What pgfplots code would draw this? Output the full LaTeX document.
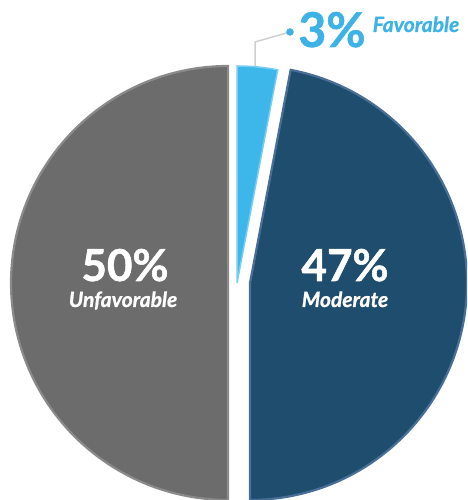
\documentclass[border=0pt]{standalone}
\usepackage{pgfplots}
\pgfplotsset{compat=1.18}
\usepackage{fontspec}
\setmainfont{Lato}
\newfontfamily\heavy[BoldFeatures={FakeBold=1.2}, BoldItalicFeatures={FakeBold=1.0}]{Lato}
\definecolor{grayfill}{HTML}{6C6C6C}
\definecolor{grayedge}{HTML}{8A8A8A}
\definecolor{bluefill}{HTML}{1F4D6E}
\definecolor{blueedge}{HTML}{4A6F97}
\definecolor{lbfill}{HTML}{3DB6EA}
\definecolor{lbedge}{HTML}{78CDF2}
\definecolor{lbtext}{HTML}{3DB2E6}
\definecolor{leader}{HTML}{CFCFCF}
% data: percentages
\def\vUnfav{50}
\def\vMod{47}
\def\vFav{3}
\def\R{217}
\begin{document}
\begin{tikzpicture}
\begin{axis}[
  width=467pt, height=500pt, scale only axis,
  xmin=0, xmax=467, ymin=0, ymax=500,
  hide axis, clip=true,
]
% Unfavorable (gray): from 90 to 90+3.6*50
\addplot[fill=grayfill, draw=grayedge, line width=2.2pt, samples=120,
  domain=90:{90+3.6*\vUnfav}, variable=\t]
  ({228+\R*cos(\t)},{217+\R*sin(\t)}) -- (axis cs:228,217) -- cycle;
% Moderate (dark blue): from 90-3.6*3 down by 3.6*47
\addplot[fill=bluefill, draw=blueedge, line width=2.2pt, samples=120,
  domain={90-3.6*\vFav-3.6*\vMod}:{90-3.6*\vFav}, variable=\t]
  ({250+\R*cos(\t)},{217+\R*sin(\t)}) -- (axis cs:250,217) -- cycle;
% Favorable (light blue)
\addplot[fill=lbfill, draw=lbedge, line width=1.5pt, samples=20,
  domain={90-3.6*\vFav}:90, variable=\t]
  ({237+\R*cos(\t)},{217+\R*sin(\t)}) -- (axis cs:237,217) -- cycle;
% leader line and dot
\addplot[leader, line width=1.5pt] coordinates {(255,434) (255,458) (290,468)};
\addplot[only marks, mark=*, mark size=3.5pt, lbtext] coordinates {(290,468)};
% labels
\tikzset{lab/.style={inner sep=0pt, anchor=base}}
\node[lab, text=lbtext, font={\fontsize{48}{48}\selectfont\heavy\bfseries}] at (axis cs:332,453) {3\%};
\node[lab, text=lbtext, font={\fontsize{21}{21}\selectfont\heavy\bfseries\itshape}] at (axis cs:416,468) {Favorable};
\node[lab, text=white, font={\fontsize{44}{44}\selectfont\heavy\bfseries}] at (axis cs:125,219) {50\%};
\node[lab, text=white, font={\fontsize{21}{21}\selectfont\heavy\bfseries\itshape}] at (axis cs:123,193) {Unfavorable};
\node[lab, text=white, font={\fontsize{44}{44}\selectfont\heavy\bfseries}] at (axis cs:345,219) {47\%};
\node[lab, text=white, font={\fontsize{21}{21}\selectfont\heavy\bfseries\itshape}] at (axis cs:345,193) {Moderate};
\end{axis}
\pgfresetboundingbox
\path (current axis.south west) rectangle (current axis.north east);
\end{tikzpicture}
\end{document}
